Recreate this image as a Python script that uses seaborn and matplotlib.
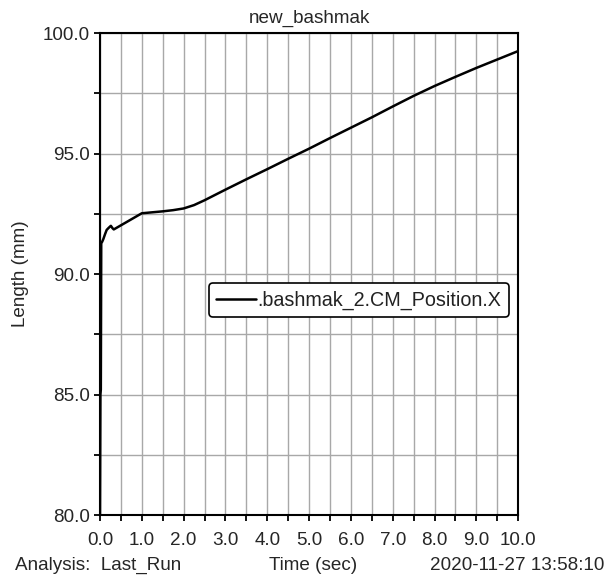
import numpy as np
import pandas as pd
import matplotlib
matplotlib.use("Agg")
import matplotlib.pyplot as plt
from matplotlib.ticker import MultipleLocator, FormatStrFormatter
import seaborn as sns

# Simulation output: centre-of-mass X position over time
time_s = [0.0, 0.01, 0.02, 0.03, 0.05, 0.08, 0.12, 0.16, 0.21, 0.26, 0.30, 0.33,
          0.5, 0.75, 1.0, 1.25, 1.5, 1.75, 2.0, 2.25, 2.5, 3.0, 3.5, 4.0,
          4.5, 5.0, 5.5, 6.0, 6.5, 7.0, 7.5, 8.0, 8.5, 9.0, 9.5, 10.0]
position_mm = [80.0, 85.0, 85.2, 91.29, 91.33, 91.45, 91.65, 91.83, 91.92, 92.0,
               91.9, 91.85, 92.02, 92.27, 92.52, 92.56, 92.6, 92.65, 92.72, 92.86,
               93.06, 93.5, 93.93, 94.35, 94.78, 95.2, 95.64, 96.07, 96.5, 96.95,
               97.39, 97.8, 98.18, 98.55, 98.9, 99.25]

title = "new_bashmak"
series_name = ".bashmak_2.CM_Position.X"
y_label = "Length (mm)"
x_label = "Time (sec)"
analysis_note = "Analysis:  Last_Run"
timestamp = "2020-11-27 13:58:10"

df = pd.DataFrame({"Time": time_s, "Position": position_mm})

sns.set_style("white")
plt.rcParams["font.family"] = ["Liberation Sans", "DejaVu Sans"]

FS = 13.6

fig = plt.figure(figsize=(6.06, 5.79), dpi=100)
ax = fig.add_axes([0.165, 0.1105, 0.69, 0.8325])

sns.lineplot(data=df, x="Time", y="Position", ax=ax, color="black",
             linewidth=1.8, label=series_name, estimator=None, sort=False)

ax.set_xlim(0, 10)
ax.set_ylim(80, 100)
ax.xaxis.set_major_locator(MultipleLocator(1.0))
ax.xaxis.set_minor_locator(MultipleLocator(0.5))
ax.yaxis.set_major_locator(MultipleLocator(5.0))
ax.yaxis.set_minor_locator(MultipleLocator(2.5))
ax.xaxis.set_major_formatter(FormatStrFormatter("%.1f"))
ax.yaxis.set_major_formatter(FormatStrFormatter("%.1f"))

ax.grid(True, which="both", color="#a8a8a8", linewidth=1.0)
ax.set_axisbelow(True)

ax.tick_params(which="both", direction="out", length=4.5, width=1.3,
               color="black", labelsize=FS, left=True, bottom=True)
ax.tick_params(axis="x", pad=8)
ax.tick_params(axis="y", pad=3)
for s in ax.spines.values():
    s.set_color("black")
    s.set_linewidth(1.5)

ax.set_title(title, fontsize=FS, pad=7)
ax.set_ylabel(y_label, fontsize=FS, labelpad=10)
ax.set_xlabel("")

fig.text(0.516, 0.024, x_label, ha="center", va="center", fontsize=FS)
fig.text(0.024, 0.024, analysis_note, ha="left", va="center", fontsize=FS)
fig.text(0.998, 0.024, timestamp, ha="right", va="center", fontsize=FS)

leg = ax.legend(loc="center right", bbox_to_anchor=(0.978, 0.446),
                fontsize=14.2, frameon=True, fancybox=True, framealpha=1,
                edgecolor="black", handlelength=2.0, handletextpad=0.1,
                borderpad=0.38, borderaxespad=0)
leg.get_frame().set_linewidth(1.2)
for t in leg.get_texts():
    t.set_color("#222222")

fig.savefig("out.png", dpi=100)
